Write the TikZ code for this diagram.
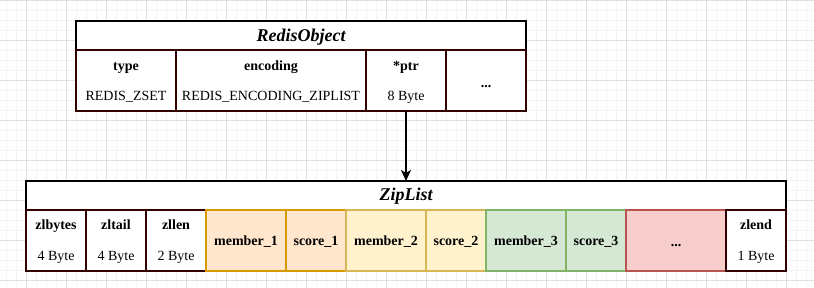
\documentclass[tikz,border=0pt]{standalone}
\usepackage{fontspec}
\setmainfont{Liberation Serif}
\usetikzlibrary{arrows.meta}

\definecolor{gridmajor}{HTML}{E0E0E0}
\definecolor{gridminor}{HTML}{F4F4F4}
\definecolor{cellline}{HTML}{330000}
\definecolor{orfill}{HTML}{FFE6CC}\definecolor{orline}{HTML}{D79B00}
\definecolor{yefill}{HTML}{FFF2CC}\definecolor{yeline}{HTML}{D6B656}
\definecolor{grfill}{HTML}{D5E8D4}\definecolor{grline}{HTML}{82B366}
\definecolor{rdfill}{HTML}{F8CECC}\definecolor{rdline}{HTML}{B85450}

\begin{document}
\begin{tikzpicture}[x=1pt,y=-1pt,
  header/.style={draw=black, fill=white, line width=2pt, inner sep=0pt, outer sep=0pt, minimum height=29},
  cell/.style={draw=cellline, fill=white, line width=2pt, inner sep=0pt, outer sep=0pt, minimum height=61},
  orange/.style={cell, draw=orline, fill=orfill},
  yellow/.style={cell, draw=yeline, fill=yefill},
  green/.style={cell, draw=grline, fill=grfill},
  red/.style={cell, draw=rdline, fill=rdfill},
  key/.style={font=\fontsize{14}{16}\selectfont\bfseries, inner sep=0pt, anchor=base},
  val/.style={font=\fontsize{14}{16}\selectfont, inner sep=0pt, anchor=base},
  title/.style={font=\fontsize{18}{20}\selectfont\bfseries\itshape, inner sep=0pt, anchor=base},
  link/.style={line width=2pt, -{Stealth[length=11pt,width=10pt,inset=3pt]}}]

\useasboundingbox (0,0) rectangle (814,288);
\fill[white] (0,0) rectangle (814,288);

% background grid
\foreach \x in {6,16,...,806} \draw[gridminor, line width=1pt] (\x,0) -- (\x,288);
\foreach \y in {1,11,...,281} \draw[gridminor, line width=1pt] (0,\y) -- (814,\y);
\foreach \x in {26,66,...,786} \draw[gridmajor, line width=1pt] (\x,0) -- (\x,288);
\foreach \y in {1,41,...,281} \draw[gridmajor, line width=1pt] (0,\y) -- (814,\y);

% RedisObject
\node[header, minimum width=450] (robj) at (301,35.5) {};
\node[title] (robj-t) at (301,41.7) {RedisObject};
\node[cell, minimum width=100] (type) at (126,80.5) {};
\node[cell, minimum width=190] (enc) at (271,80.5) {};
\node[cell, minimum width=80] (ptr) at (406,80.5) {};
\node[cell, minimum width=80] (more) at (486,80.5) {};
\node[key] (type-k) at (126,71) {type};
\node[val] (type-v) at (126,101) {REDIS\_ZSET};
\node[key] (enc-k) at (271,71) {encoding};
\node[val] (enc-v) at (271,101) {REDIS\_ENCODING\_ZIPLIST};
\node[key] (ptr-k) at (406,71) {*ptr};
\node[val] (ptr-v) at (406,101) {8 Byte};
\node[key] (more-k) at (486,87.5) {...};

% ZipList
\node[header, minimum width=760] (zl) at (406,195.5) {};
\node[title] (zl-t) at (406,201) {ZipList};
\node[cell, minimum width=60] (zlbytes) at (56,240.5) {};
\node[cell, minimum width=60] (zltail) at (116,240.5) {};
\node[cell, minimum width=60] (zllen) at (176,240.5) {};
\node[orange, minimum width=80] (m1) at (246,240.5) {};
\node[orange, minimum width=60] (s1) at (316,240.5) {};
\node[yellow, minimum width=80] (m2) at (386,240.5) {};
\node[yellow, minimum width=60] (s2) at (456,240.5) {};
\node[green, minimum width=80] (m3) at (526,240.5) {};
\node[green, minimum width=60] (s3) at (596,240.5) {};
\node[red, minimum width=100] (rest) at (676,240.5) {};
\node[cell, minimum width=60] (zlend) at (756,240.5) {};

\node[key] (zlbytes-k) at (56,230) {zlbytes};
\node[val] (zlbytes-v) at (56,261) {4 Byte};
\node[key] (zltail-k) at (116,230) {zltail};
\node[val] (zltail-v) at (116,261) {4 Byte};
\node[key] (zllen-k) at (176,230) {zllen};
\node[val] (zllen-v) at (176,261) {2 Byte};
\node[key] (m1-k) at (246,245.7) {member\_1};
\node[key] (s1-k) at (316,245.7) {score\_1};
\node[key] (m2-k) at (386,245.7) {member\_2};
\node[key] (s2-k) at (456,245.7) {score\_2};
\node[key] (m3-k) at (526,245.7) {member\_3};
\node[key] (s3-k) at (596,245.7) {score\_3};
\node[key] (rest-k) at (676,246.7) {...};
\node[key] (zlend-k) at (756,230) {zlend};
\node[val] (zlend-v) at (756,261) {1 Byte};

% pointer from the object to its ziplist
\draw[link] (ptr.south) -- (ptr.south |- zl.north);
\end{tikzpicture}
\end{document}
